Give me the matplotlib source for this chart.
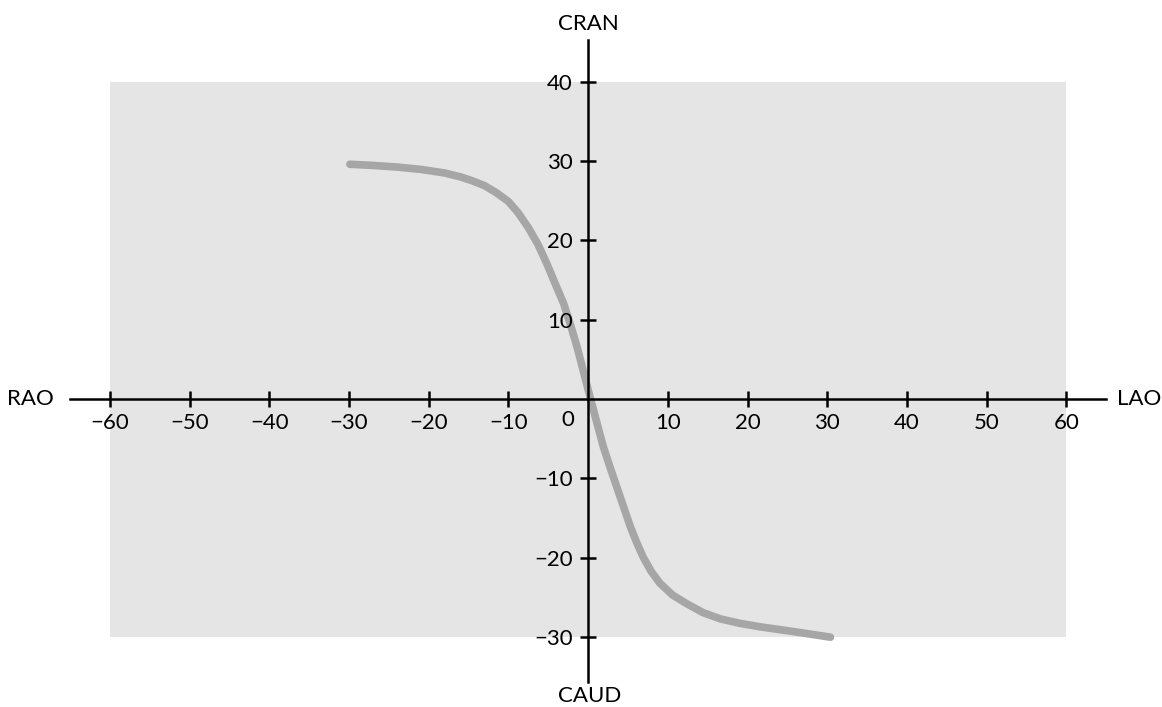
import matplotlib
matplotlib.use("Agg")
import matplotlib.pyplot as plt
from matplotlib.patches import Rectangle

plt.rcParams['font.family'] = ['Lato', 'DejaVu Sans']

# Projection path: LAO/RAO angle (x) vs CRAN/CAUD angle (y)
angle_x = [-29.9, -27.0, -24.0, -21.0, -18.0, -16.0, -14.5, -13.0, -11.5, -10.0,
           -8.8, -7.5, -6.3, -5.2, -4.2, -3.1, -2.2, -1.4, -0.6, 0.3,
           1.1, 1.9, 2.75, 3.6, 4.45, 5.3, 6.1, 6.9, 7.9, 9.0,
           10.6, 12.4, 14.4, 16.6, 19.0, 21.6, 25.8, 30.4]
angle_y = [29.6, 29.45, 29.25, 28.95, 28.5, 28.0, 27.5, 26.9, 26.0, 24.9,
           23.5, 21.6, 19.5, 17.1, 14.7, 12.1, 9.3, 6.6, 3.5, 0.0,
           -3.0, -6.0, -8.6, -11.1, -13.6, -16.1, -18.1, -19.9, -21.7, -23.2,
           -24.7, -25.8, -26.9, -27.7, -28.25, -28.7, -29.3, -30.0]

x_ticks = [-60, -50, -40, -30, -20, -10, 10, 20, 30, 40, 50, 60]
y_ticks = [-30, -20, -10, 10, 20, 30, 40]

fig = plt.figure(figsize=(11.62, 7.07), dpi=100)
ax = fig.add_axes([0, 0, 1, 1])
ax.set_xlim(-73.8, 72.0)
ax.set_ylim(-38.8, 50.3)
ax.set_facecolor('white')

# shaded working region
ax.add_patch(Rectangle((-60, -30), 120, 70, facecolor='#e5e5e5', edgecolor='none', zorder=0))

ax.plot(angle_x, angle_y, color='#a6a6a6', lw=5.5, solid_capstyle='round',
        solid_joinstyle='round', zorder=1.5)

for side in ('top', 'right'):
    ax.spines[side].set_visible(False)
ax.spines['left'].set_position(('data', 0))
ax.spines['bottom'].set_position(('data', 0))
ax.spines['left'].set_bounds(-35.7, 45.3)
ax.spines['bottom'].set_bounds(-65, 65)
for side in ('left', 'bottom'):
    ax.spines[side].set_linewidth(1.8)

ax.set_xticks(x_ticks)
ax.set_xticklabels([f"\u2212{abs(v)}" if v < 0 else str(v) for v in x_ticks])
ax.set_yticks(y_ticks)
ax.set_yticklabels([f"\u2212{abs(v)}" if v < 0 else str(v) for v in y_ticks])
ax.tick_params(direction='inout', length=12, width=1.8, labelsize=16, color='black')
ax.tick_params(axis='x', pad=4)
ax.tick_params(axis='y', pad=5)

ax.text(-2.5, -1.4, "0", ha='center', va='top', fontsize=16)

ax.text(-67.0, 0, "RAO", ha='right', va='center', fontsize=16)
ax.text(66.3, 0, "LAO", ha='left', va='center', fontsize=16)
ax.text(0, 47.3, "CRAN", ha='center', va='center', fontsize=16)
ax.text(0.2, -37.4, "CAUD", ha='center', va='center', fontsize=16)

fig.savefig("out.png", dpi=100)
